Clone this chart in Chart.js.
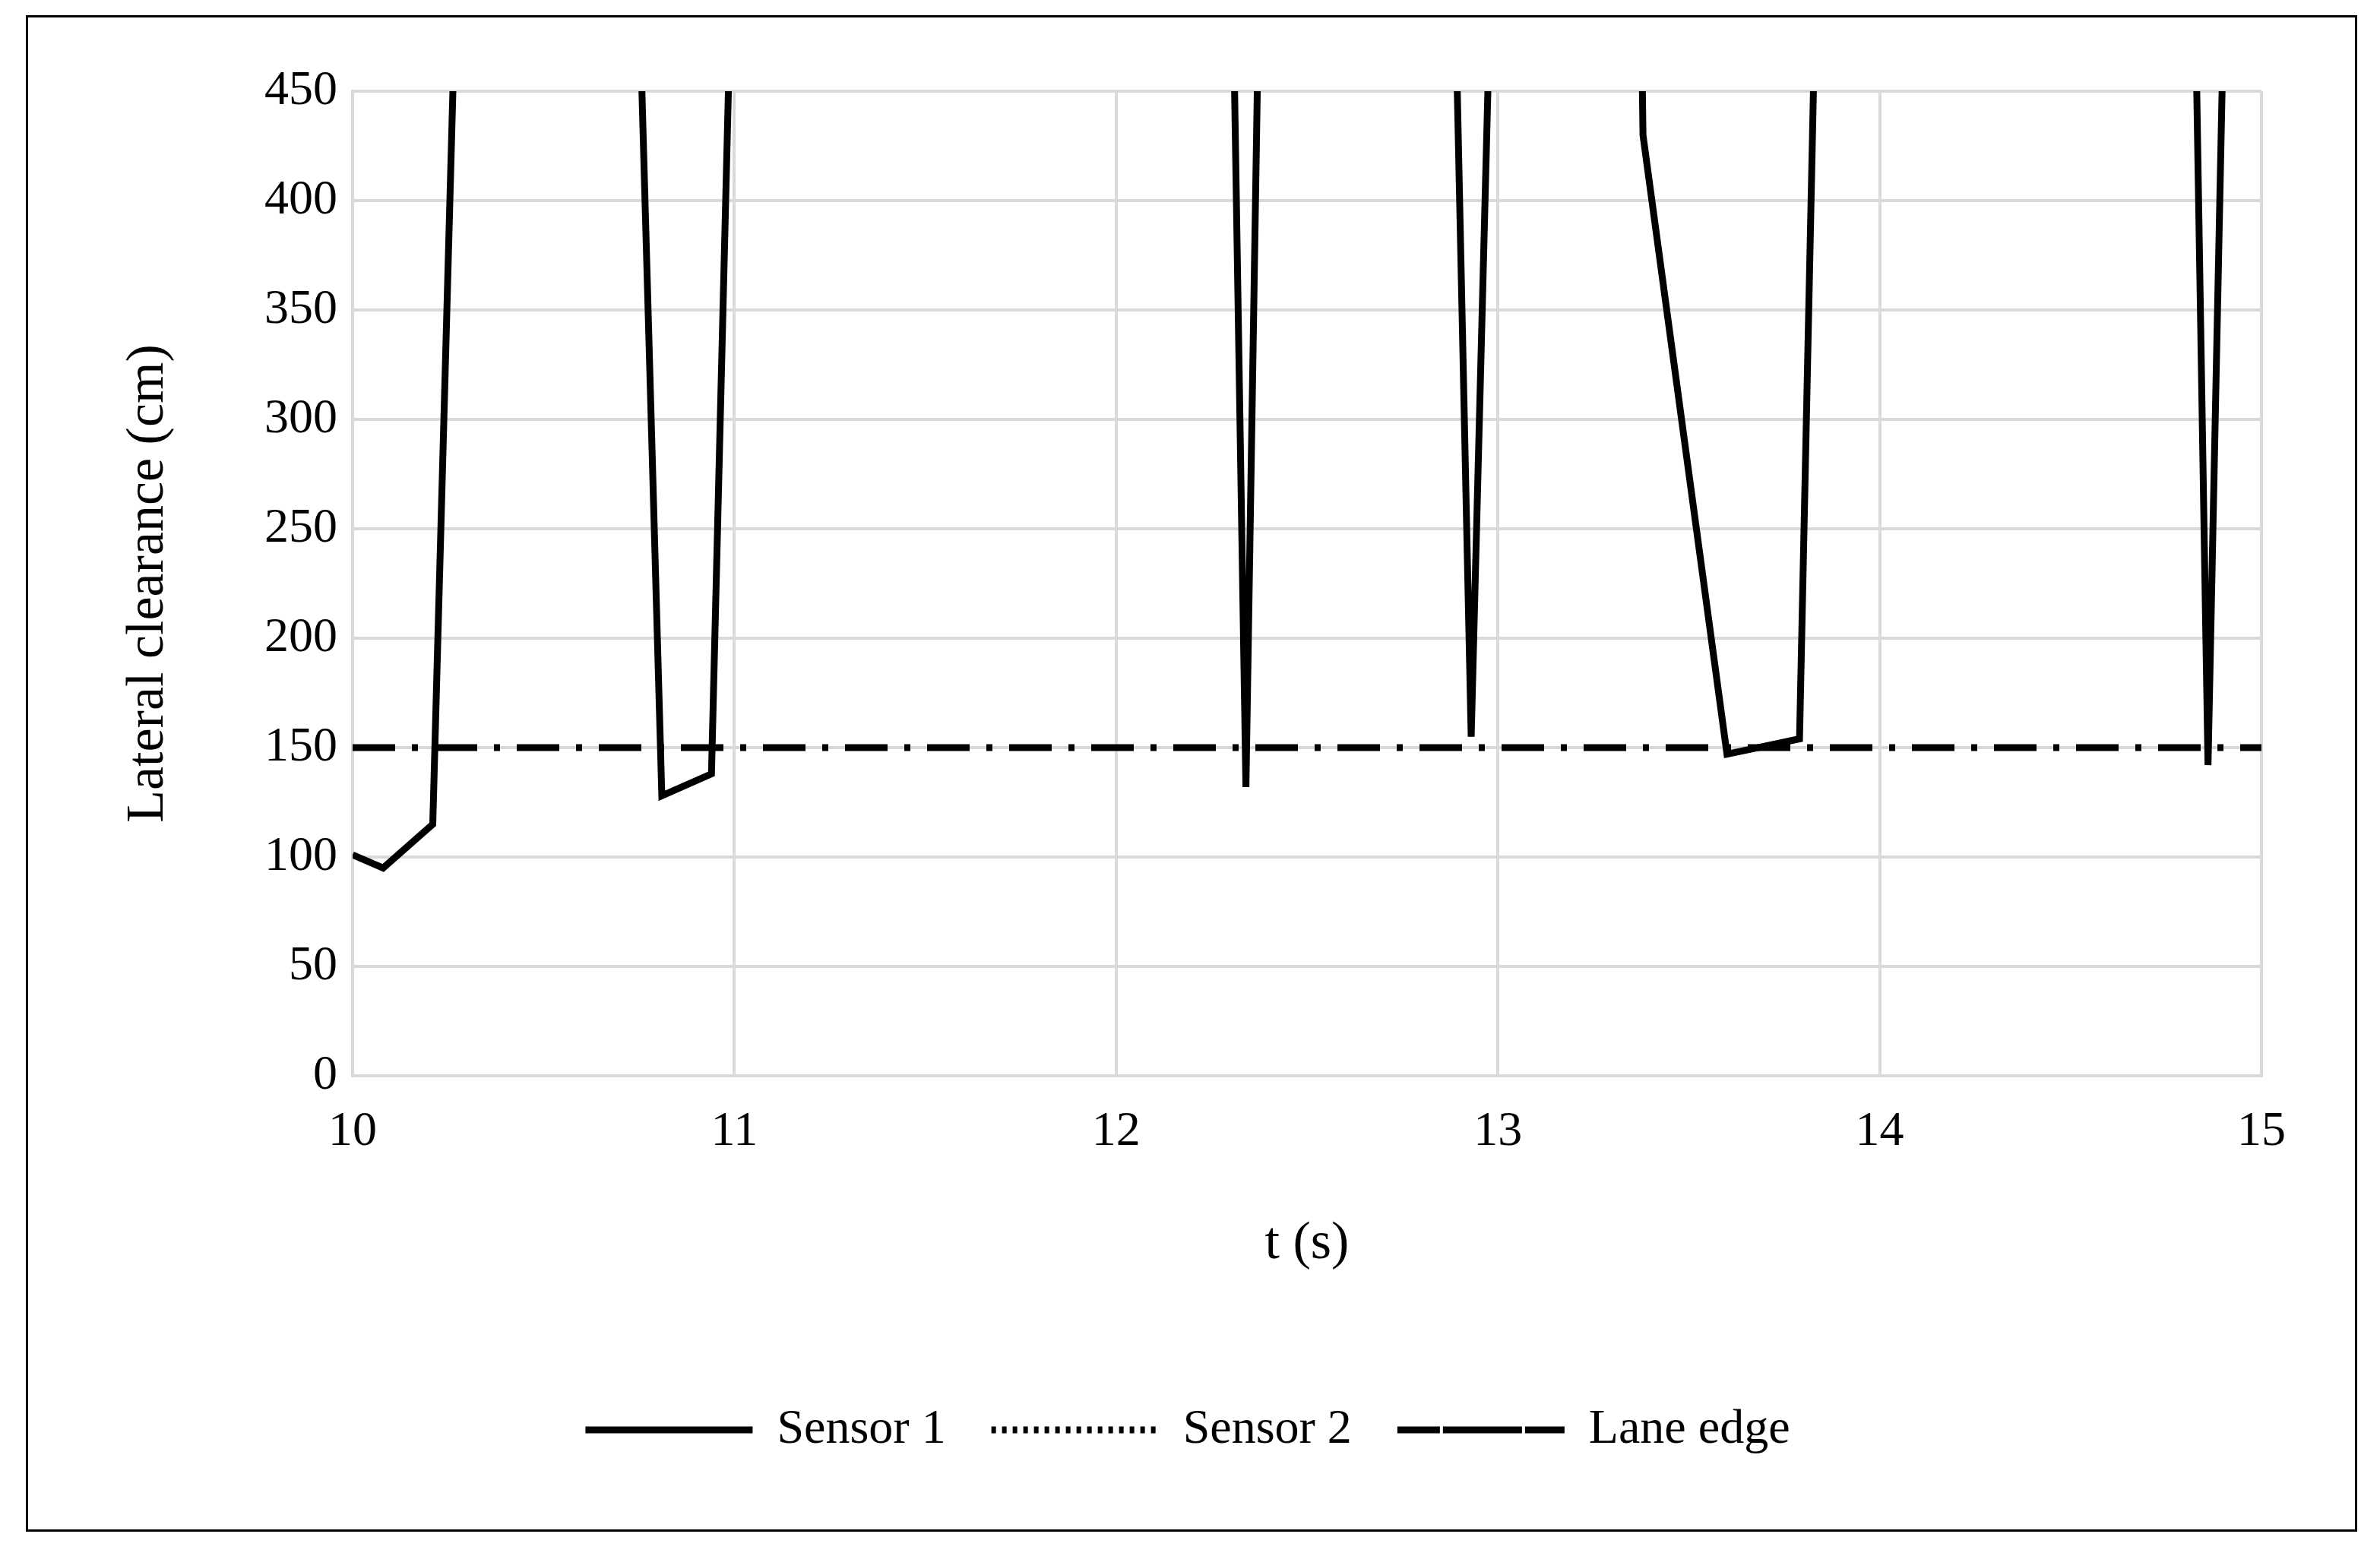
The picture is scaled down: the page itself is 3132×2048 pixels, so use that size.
<!DOCTYPE html>
<html>
<head>
<meta charset="utf-8">
<script src="https://cdn.jsdelivr.net/npm/chart.js@4/dist/chart.umd.min.js"></script>
<style>
  html, body { margin: 0; padding: 0; background: #fff; }
  #frame { position: absolute; left: 34px; top: 20px; width: 3062px; height: 1990px; border: 3px solid #000; }
  canvas { position: absolute; left: 0; top: 0; }
</style>
</head>
<body>
<div id="frame"></div>
<canvas id="chart" width="3132" height="2048"></canvas>
<script>
// Sensor 1 readings (values above 450 are off-scale and clipped)
const sensor1Time = [10.0, 10.08, 10.21, 10.28, 10.74, 10.81, 10.94, 11.0, 12.3, 12.34, 12.38, 12.88, 12.93, 12.99, 13.37, 13.38, 13.6, 13.79, 13.84, 14.82, 14.86, 14.91, 15.0];
const sensor1Value = [101, 95, 115, 560, 560, 128, 138, 560, 560, 132, 560, 560, 155, 560, 560, 430, 147, 154, 560, 560, 142, 560, 560];
const sensor2Time = [];
const sensor2Value = [];
const laneTime = [10, 15];
const laneValue = [150, 150];

const toXY = (xs, ys) => xs.map((x, i) => ({ x: x, y: ys[i] }));
const serif = '"Liberation Serif", "DejaVu Serif", serif';

new Chart(document.getElementById('chart'), {
  type: 'line',
  data: {
    datasets: [
      { label: 'Sensor 1', data: toXY(sensor1Time, sensor1Value), borderColor: '#000', backgroundColor: 'transparent', borderWidth: 9, pointRadius: 0, tension: 0 },
      { label: 'Sensor 2', data: toXY(sensor2Time, sensor2Value), borderColor: '#000', backgroundColor: 'transparent', borderWidth: 9, borderDash: [6, 8], pointRadius: 0 },
      { label: 'Lane edge', data: toXY(laneTime, laneValue), borderColor: '#000', backgroundColor: 'transparent', borderWidth: 9, borderDash: [56, 22, 8, 22], pointRadius: 0 }
    ]
  },
  options: {
    responsive: false,
    animation: false,
    layout: { padding: { left: 150, right: 156, top: 120, bottom: 124 } },
    scales: {
      x: {
        type: 'linear', min: 10, max: 15,
        ticks: { stepSize: 1, color: '#000', font: { family: serif, size: 64 }, padding: 36 },
        grid: { color: '#d9d9d9', lineWidth: 4, drawTicks: false },
        border: { color: '#d9d9d9', width: 4 },
        title: { display: true, text: 't (s)', color: '#000', font: { family: serif, size: 70 }, padding: { top: 40, bottom: 110 } },
        afterFit: (s) => { s.height = 374; }
      },
      y: {
        min: 0, max: 450,
        ticks: { stepSize: 50, color: '#000', font: { family: serif, size: 64 }, padding: 20 },
        grid: { color: '#d9d9d9', lineWidth: 4, drawTicks: false },
        border: { color: '#d9d9d9', width: 4 },
        title: { display: true, text: 'Lateral clearance (cm)', color: '#000', font: { family: serif, size: 70 } },
        afterFit: (s) => { s.width = 314; }
      }
    },
    plugins: {
      legend: {
        position: 'bottom',
        labels: { boxWidth: 220, boxHeight: 0, color: '#000', font: { family: serif, size: 64 }, padding: 60 }
      },
      tooltip: { enabled: false }
    }
  }
});
</script>
</body>
</html>
